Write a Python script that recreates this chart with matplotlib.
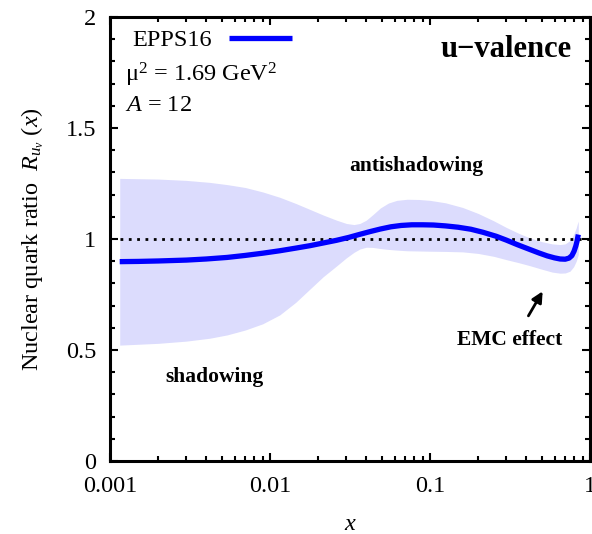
import matplotlib
matplotlib.use("Agg")
import matplotlib.pyplot as plt

plt.rcParams['font.family'] = ['Liberation Serif', 'DejaVu Serif']
plt.rcParams['mathtext.fontset'] = 'custom'
plt.rcParams['mathtext.rm'] = 'Liberation Serif'
plt.rcParams['mathtext.it'] = 'Liberation Serif:italic'
plt.rcParams['mathtext.bf'] = 'Liberation Serif:bold'

# central EPPS16 curve
x_c = [0.00115, 0.0015, 0.002, 0.003, 0.004, 0.0054, 0.007, 0.009, 0.0115,
       0.0145, 0.0178, 0.0215, 0.026, 0.031, 0.036, 0.042, 0.049, 0.057,
       0.066, 0.077, 0.09, 0.105, 0.125, 0.15, 0.18, 0.215, 0.26, 0.3, 0.35,
       0.42, 0.48, 0.54, 0.6, 0.65, 0.7, 0.74, 0.77, 0.795, 0.815, 0.83, 0.845]
r_c = [0.898, 0.899, 0.901, 0.905, 0.910, 0.917, 0.926, 0.936, 0.947,
       0.959, 0.970, 0.982, 0.994, 1.007, 1.020, 1.033, 1.045, 1.055,
       1.061, 1.064, 1.064, 1.063, 1.059, 1.053, 1.044, 1.030, 1.012, 0.995, 0.975,
       0.953, 0.937, 0.924, 0.915, 0.910, 0.909, 0.914, 0.925, 0.945, 0.968, 0.990, 1.020]

# uncertainty band
x_b = [0.00115, 0.002, 0.003, 0.0042, 0.0054, 0.007, 0.009, 0.0115, 0.0145,
       0.0178, 0.0215, 0.026, 0.03, 0.0335, 0.0365, 0.04, 0.044, 0.049, 0.055,
       0.062, 0.072, 0.085, 0.1, 0.125, 0.16, 0.2, 0.25, 0.3, 0.36, 0.42, 0.5,
       0.58, 0.65, 0.7, 0.75, 0.79, 0.82, 0.835, 0.845]
r_hi = [1.273, 1.270, 1.264, 1.255, 1.245, 1.232, 1.212, 1.188, 1.160,
        1.133, 1.108, 1.085, 1.070, 1.065, 1.070, 1.085, 1.110, 1.140, 1.162,
        1.174, 1.179, 1.178, 1.174, 1.163, 1.142, 1.115, 1.082, 1.052, 1.025, 1.005, 0.988,
        0.978, 0.975, 0.978, 0.993, 1.020, 1.050, 1.070, 1.080]
r_lo = [0.522, 0.530, 0.540, 0.553, 0.568, 0.590, 0.618, 0.658, 0.715,
        0.775, 0.830, 0.878, 0.915, 0.940, 0.955, 0.963, 0.962, 0.957, 0.953,
        0.950, 0.947, 0.946, 0.945, 0.944, 0.942, 0.935, 0.922, 0.907, 0.893, 0.880, 0.864,
        0.851, 0.846, 0.847, 0.855, 0.875, 0.900, 0.918, 0.930]

xticks = [0.001, 0.01, 0.1, 1]
xticklabels = ['0.001', '0.01', '0.1', '1']
yticks = [0, 0.5, 1, 1.5, 2]
yticklabels = ['0', '0.5', '1', '1.5', '2']

fs = 17.5

fig = plt.figure(figsize=(5.92, 5.34), dpi=100)
ax = fig.add_axes([110/592, 1-461/534, 480/592, 444/534])

ax.fill_between(x_b, r_lo, r_hi, color='#dcdcfd', lw=0, zorder=1)
ax.plot([x_c[0], 1], [1, 1], color='black', ls=(0, (1, 2)), lw=2, zorder=2)
ax.plot(x_c, r_c, color='#0000ff', lw=3.8, zorder=3, label='EPPS16',
        solid_capstyle='butt')

ax.set_xscale('log')
ax.set_xlim(0.001, 1)
ax.set_ylim(0, 2)
ax.set_xticks(xticks)
ax.set_xticklabels(xticklabels)
ax.set_yticks(yticks)
ax.set_yticklabels(yticklabels)
ax.yaxis.set_minor_locator(matplotlib.ticker.MultipleLocator(0.1))
ax.tick_params(which='both', direction='in', top=True, right=True, width=1.5,
               labelsize=fs)
ax.tick_params(which='major', length=6)
ax.tick_params(which='minor', length=3.5)
ax.tick_params(axis='x', pad=11)
ax.tick_params(axis='y', pad=10)
for s in ax.spines.values():
    s.set_linewidth(2.2)

ax.set_xlabel('$x$', fontsize=fs, labelpad=12)
ax.set_ylabel(r'Nuclear quark ratio  $R_{u_v}\ (x)$', fontsize=fs, labelpad=14)

leg = ax.legend(loc='center left', bbox_to_anchor=(0.046, 0.948), frameon=False,
                markerfirst=False, fontsize=fs, handlelength=2.6,
                handletextpad=0.7, borderaxespad=0, borderpad=0)

ax.text(0.031, 0.869, 'μ$^2$ = 1.69 GeV$^2$', transform=ax.transAxes,
        fontsize=fs, va='center', ha='left')
ax.text(0.031, 0.800, '$A$ = 12', transform=ax.transAxes,
        fontsize=fs, va='center', ha='left')
ax.text(0.9625, 0.926, 'u\u2212valence', transform=ax.transAxes,
        fontsize=22, fontweight='bold', va='center', ha='right')

ax.text(0.0818, 1.329, 'antishadowing', fontsize=15.5, fontweight='bold',
        ha='center', va='center')
ax.text(0.00447, 0.378, 'shadowing', fontsize=15.5, fontweight='bold',
        ha='center', va='center')
ax.text(0.316, 0.545, 'EMC effect', fontsize=15.5, fontweight='bold',
        ha='center', va='center')
ax.annotate('', xy=(0.516, 0.775), xytext=(0.404, 0.643),
            arrowprops=dict(arrowstyle='-|>', color='black', lw=2,
                            mutation_scale=16))

fig.savefig('out.png', dpi=100)
